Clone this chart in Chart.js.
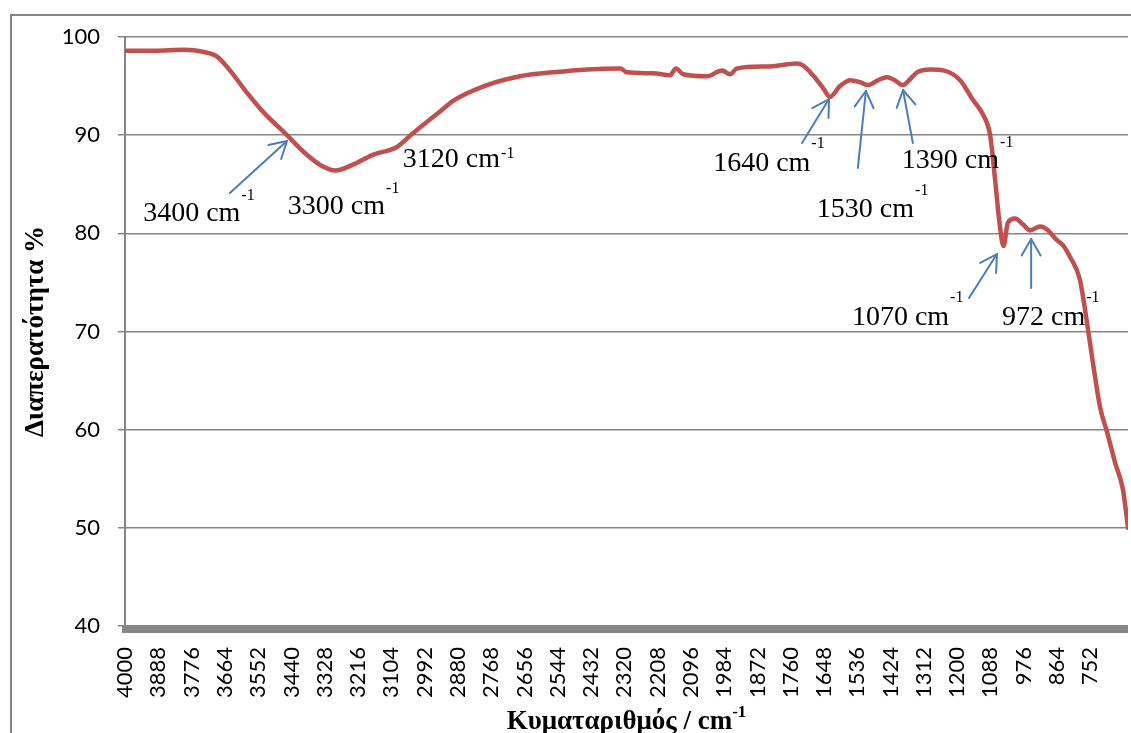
<!DOCTYPE html>
<html><head><meta charset="utf-8">
<script src="https://cdn.jsdelivr.net/npm/chart.js@4.4.1/dist/chart.umd.min.js"></script>
<style>html,body{margin:0;padding:0;background:#fff;}#wrap{width:1131px;height:733px;position:relative;}</style>
</head><body><div id="wrap"><canvas id="c" width="1131" height="733"></canvas></div>
<script>
// ---- data ----
const wavenumbers = [4000,3900,3800,3738,3690,3647,3589,3536,3455,3388,3334,3293,3233,3166,3085,3031,2974,2940,2896,2782,2671,2560,2445,2334,2311,2223,2166,2146,2122,2042,1991,1964,1941,1830,1739,1719,1685,1651,1628,1594,1560,1527,1500,1466,1436,1410,1382,1355,1335,1291,1247,1190,1147,1113,1089,1073,1059,1044,1029,1005,978,955,921,898,864,844,820,787,763,743,719,695,668,642,625];
const transmittance = [98.6,98.6,98.7,98.5,98.0,96.6,94.3,92.4,90.0,88.0,86.8,86.4,87.0,88.0,88.8,90.2,91.6,92.4,93.5,95.1,96.0,96.4,96.7,96.8,96.4,96.3,96.1,96.8,96.2,96.0,96.6,96.2,96.8,97.0,97.3,97.1,96.1,94.8,93.9,95.0,95.6,95.4,95.1,95.6,95.9,95.6,95.1,95.8,96.4,96.7,96.6,95.6,93.6,92.1,90.0,85.7,81.5,78.7,81.1,81.5,80.9,80.3,80.7,80.4,79.3,78.8,77.6,75.3,70.9,66.8,62.3,59.7,56.6,53.9,50.0];
const xTickLabels = [4000,3888,3776,3664,3552,3440,3328,3216,3104,2992,2880,2768,2656,2544,2432,2320,2208,2096,1984,1872,1760,1648,1536,1424,1312,1200,1088,976,864,752];
const yMin = 40, yMax = 100, yStep = 10;
const xAxisTitle = 'Κυματαριθμός / cm';
const yAxisTitle = 'Διαπερατότητα %';
// peak annotations: label text, anchor (wavenumber, %T) of text baseline start, superscript raise
const annText = ['3400 cm','3300 cm','3120 cm','1640 cm','1530 cm','1390 cm','1070 cm','972 cm'];
const annWn   = [3939,3452,3065,2021,1672,1386,1554,1049];
const annT    = [81.26,81.97,86.76,86.35,81.66,86.66,70.66,70.66];
const annSup  = [21,21,9,23,22,21,23,23];
// arrows: tail -> tip
const arrTailWn = [3647,1722,1534,1349,1160,951];
const arrTailT  = [84.11,89.20,86.66,89.20,73.41,74.43];
const arrTipWn  = [3455,1631,1507,1382,1066,951];
const arrTipT   = [89.41,93.68,94.50,94.60,77.89,79.42];

const GRAY = '#868686';
const SERIF = '"Liberation Serif", "Times New Roman", serif';
const decor = {
  id: 'decor',
  beforeDraw(chart) {
    const ctx = chart.ctx;
    ctx.save();
    ctx.fillStyle = '#fff';
    ctx.fillRect(0, 0, chart.width, chart.height);
    ctx.strokeStyle = GRAY; ctx.lineWidth = 2;
    ctx.strokeRect(11, 15, chart.width + 50, chart.height + 50);
    ctx.restore();
  },
  afterDraw(chart) {
    const ctx = chart.ctx, a = chart.chartArea;
    const xs = chart.scales.x, ys = chart.scales.y;
    ctx.save();
    // thick category axis bar
    ctx.fillStyle = GRAY;
    ctx.fillRect(a.left - 3, a.bottom - 1, a.right - a.left + 3, 8);
    // annotations
    ctx.fillStyle = '#000';
    ctx.textBaseline = 'alphabetic';
    ctx.textAlign = 'left';
    for (let i = 0; i < annText.length; i++) {
      const x = xs.getPixelForValue(annWn[i]);
      const y = ys.getPixelForValue(annT[i]);
      ctx.font = '28px ' + SERIF;
      ctx.fillText(annText[i], x, y);
      const w = ctx.measureText(annText[i]).width;
      ctx.font = '16px ' + SERIF;
      ctx.fillText('-1', x + w + 1, y - annSup[i]);
    }
    // arrows
    ctx.strokeStyle = '#4A7EBB'; ctx.lineWidth = 2; ctx.lineCap = 'round';
    for (let i = 0; i < arrTailWn.length; i++) {
      const x0 = xs.getPixelForValue(arrTailWn[i]), y0 = ys.getPixelForValue(arrTailT[i]);
      const x1 = xs.getPixelForValue(arrTipWn[i]), y1 = ys.getPixelForValue(arrTipT[i]);
      ctx.beginPath(); ctx.moveTo(x0, y0); ctx.lineTo(x1, y1); ctx.stroke();
      const ang = Math.atan2(y1 - y0, x1 - x0);
      for (const s of [-1, 1]) {
        const aa = ang + Math.PI + s * Math.PI / 6;
        ctx.beginPath(); ctx.moveTo(x1, y1);
        ctx.lineTo(x1 + 19 * Math.cos(aa), y1 + 19 * Math.sin(aa)); ctx.stroke();
      }
    }
    // axis titles
    ctx.fillStyle = '#000';
    ctx.save();
    ctx.translate(36, (a.top + a.bottom) / 2);
    ctx.rotate(-Math.PI / 2);
    ctx.textAlign = 'center'; ctx.textBaseline = 'middle';
    ctx.font = 'bold 27px ' + SERIF;
    ctx.fillText(yAxisTitle, 0, 0);
    ctx.restore();
    ctx.font = 'bold 27px ' + SERIF;
    const wMain = ctx.measureText(xAxisTitle).width;
    ctx.font = 'bold 17px ' + SERIF;
    const wSup = ctx.measureText('-1').width;
    const x0 = (a.left + a.right) / 2 - (wMain + wSup) / 2;
    ctx.textAlign = 'left';
    ctx.font = 'bold 27px ' + SERIF;
    ctx.fillText(xAxisTitle, x0, 729);
    ctx.font = 'bold 17px ' + SERIF;
    ctx.fillText('-1', x0 + wMain, 717);
    ctx.restore();
  }
};

new Chart(document.getElementById('c'), {
  type: 'line',
  data: {
    datasets: [{
      data: wavenumbers.map((w, i) => ({ x: w, y: transmittance[i] })),
      borderColor: '#C0504D',
      borderWidth: 4.5,
      pointRadius: 0,
      fill: false,
      cubicInterpolationMode: 'monotone',
      borderCapStyle: 'round',
      borderJoinStyle: 'round'
    }]
  },
  options: {
    responsive: false,
    devicePixelRatio: 1,
    animation: false,
    layout: { padding: { top: 37, right: 3, left: 0, bottom: 0 } },
    plugins: { legend: { display: false }, tooltip: { enabled: false } },
    scales: {
      x: {
        type: 'linear',
        reverse: true,
        min: 625, max: 4000,
        afterBuildTicks: (axis) => { axis.ticks = xTickLabels.map(v => ({ value: v })); },
        afterFit: (s) => { s.height = 107; },
        grid: { display: false },
        border: { display: false },
        ticks: {
          autoSkip: false, minRotation: 90, maxRotation: 90, padding: 13,
          color: '#000',
          font: { family: 'Lato, "Open Sans", sans-serif', size: 22 },
          callback: (v) => String(v)
        }
      },
      y: {
        min: yMin, max: yMax,
        afterFit: (s) => { s.width = 125; },
        grid: { color: GRAY, lineWidth: 1.5, tickLength: 7, drawTicks: true },
        border: { display: true, color: GRAY, width: 2 },
        ticks: {
          stepSize: yStep, padding: 18, color: '#000',
          font: { family: 'Lato, "Open Sans", sans-serif', size: 22 }
        }
      }
    }
  },
  plugins: [decor]
});
</script></body></html>
